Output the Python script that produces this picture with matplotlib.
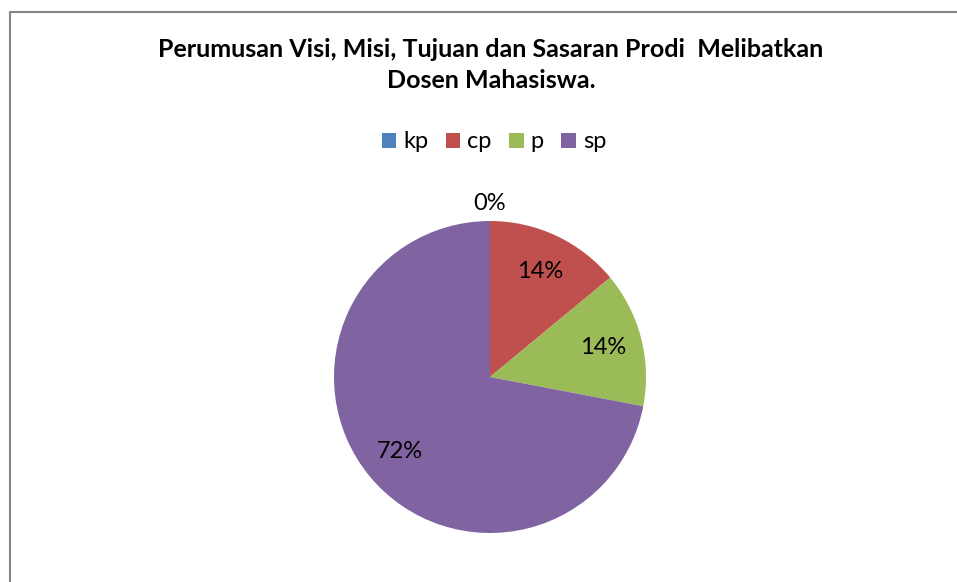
import matplotlib
matplotlib.use("Agg")
import matplotlib.pyplot as plt
from matplotlib.lines import Line2D

plt.rcParams['font.family'] = ['Lato', 'DejaVu Sans']

# data
categories = ['kp', 'cp', 'p', 'sp']
values = [0, 14, 14, 72]
colors = ['#4F81BD', '#C0504D', '#9BBB59', '#8064A2']
title = 'Perumusan Visi, Misi, Tujuan dan Sasaran Prodi  Melibatkan\nDosen Mahasiswa.'

W, H = 957, 582
fig = plt.figure(figsize=(W / 100, H / 100), dpi=100)

# pie centre ~ (490, 377) px, radius ~156 px
cx, cy, r = 490, 377, 156
ax = fig.add_axes([(cx - r) / W, (H - cy - r) / H, 2 * r / W, 2 * r / H])

wedges, texts, autotexts = ax.pie(values, colors=colors, startangle=90, counterclock=False,
                                  autopct=lambda p: '%.0f%%' % p, pctdistance=0.75,
                                  radius=1, wedgeprops=dict(linewidth=0),
                                  textprops=dict(fontsize=17, color='black'))
ax.set_xlim(-1, 1)
ax.set_ylim(-1, 1)
ax.set_aspect('equal')

# zero slice label sits outside the pie
for v, t in zip(values, autotexts):
    if v == 0:
        x, y = t.get_position()
        t.set_position((x / 0.75 * 1.11, y / 0.75 * 1.11))

fig.text(491 / W, 1 - 65 / H, title, ha='center', va='center', multialignment='center',
         fontsize=18, fontweight='bold', linespacing=1.4)

fig.legend(wedges, categories, loc='center', bbox_to_anchor=(494 / W, 1 - 142 / H), ncol=4,
           frameon=False, fontsize=17, handlelength=0.6, handleheight=0.6,
           handletextpad=0.3, columnspacing=0.75)

# chart border (only top and left visible)
fig.add_artist(Line2D([10 / W, 10 / W, 1], [0, 1 - 11.5 / H, 1 - 11.5 / H],
                      color='#868686', linewidth=1.5, transform=fig.transFigure))

fig.savefig('out.png', dpi=100)
